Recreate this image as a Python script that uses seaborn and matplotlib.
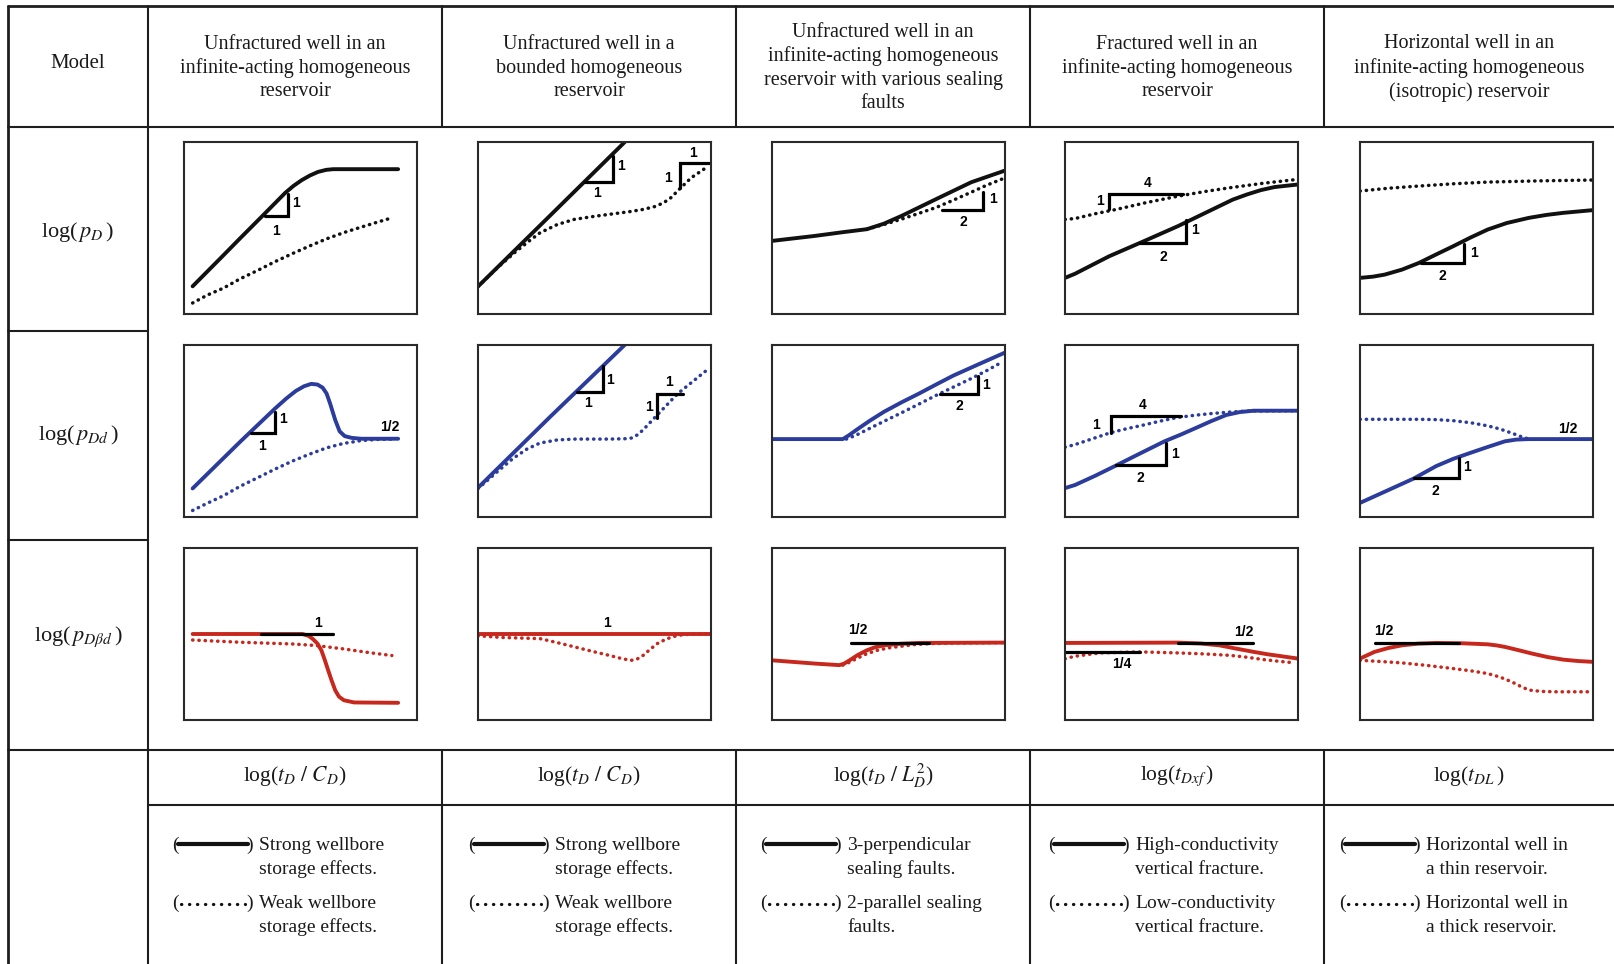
import matplotlib
matplotlib.use("Agg")
import matplotlib.pyplot as plt
import seaborn as sns
from matplotlib.lines import Line2D

sns.set_theme(style="white")
plt.rcParams["font.family"] = ["Liberation Serif", "DejaVu Serif"]
plt.rcParams["mathtext.fontset"] = "stix"

# ---------------- data (panel-local units: 0..100 on both axes) ----------------
model_titles = [
    "Unfractured well in an\ninfinite-acting homogeneous\nreservoir",
    "Unfractured well in a\nbounded homogeneous\nreservoir",
    "Unfractured well in an\ninfinite-acting homogeneous\nreservoir with various sealing\nfaults",
    "Fractured well in an\ninfinite-acting homogeneous\nreservoir",
    "Horizontal well in an\ninfinite-acting homogeneous\n(isotropic) reservoir",
]
row_labels = [r"log($\,p_{D}\,$)", r"log($\,p_{Dd}\,$)", r"log($\,p_{D\beta d}\,$)"]
x_labels = [r"log($t_D\ /\ C_D$)", r"log($t_D\ /\ C_D$)", r"log($t_D\ /\ L_D^2$)",
            r"log($t_{Dxf}\,$)", r"log($t_{DL}\,$)"]
legend_solid = [("Strong wellbore", "storage effects."), ("Strong wellbore", "storage effects."),
                ("3-perpendicular", "sealing faults."), ("High-conductivity", "vertical fracture."),
                ("Horizontal well in", "a thin reservoir.")]
legend_dotted = [("Weak wellbore", "storage effects."), ("Weak wellbore", "storage effects."),
                 ("2-parallel sealing", "faults."), ("Low-conductivity", "vertical fracture."),
                 ("Horizontal well in", "a thick reservoir.")]

# Row 1 : log(pD)
r1c1_solid = [(3.7,16.1),(15.5,32.2),(24.3,44.3),(33.2,56.4),(43.5,70.5),(47,74.5),(50.5,77.8),(54,80.5),(57.5,82.6),(61,83.8),(64,84.2),(91.9,84.2)]
r1c1_dotted = [(3.7,6.4),(10,11),(17,15.1),(24,20.4),(31.7,25.4),(39,30.4),(46.5,35.1),(54,39.6),(61.2,43.7),(68.5,47.3),(76,50.5),(83,53.4),(89.2,55.9)]
r1c1_marks = [[(34.7,56.9),(44.7,56.9),(44.7,69.9)]]
r1c1_text = [("1",48.2,64.5),("1",39.5,48.5)]

r1c2_solid = [(0,16),(31,57.3),(66,104)]
r1c2_dotted = [(0,16),(8,26.5),(16,36),(22,42.5),(26.6,47.2),(34,52),(41.3,55),(50,56.8),(56.1,57.9),(65,59.5),(70.9,60.8),(76,62.5),(79.7,64.7),(83,67.8),(85.6,71.5),(91.5,79.2),(98.9,86)]
r1c2_marks = [[(45.8,76.7),(58.1,76.7),(58.1,91.8)], [(86.9,73),(86.9,87.6),(99,87.6)]]
r1c2_text = [("1",61.3,86),("1",50.9,70.5),("1",92.4,93.5),("1",81.6,78.8)]

r1c3_solid = [(0,42.5),(18.4,45.4),(30,47.5),(40.7,49.3),(48,52.5),(55.7,57.1),(70.6,66.9),(85.5,76.6),(100,83.4)]
r1c3_dotted = [(40.7,49.3),(48,52),(55.7,55.2),(63,58.5),(70.6,62),(78,66.3),(85.5,70.8),(92,74.8),(99,78.6)]
r1c3_marks = [[(72.8,60.6),(90.7,60.6),(90.7,70.8)]]
r1c3_text = [("1",94.8,66.9),("2",82.2,53.6)]

r1c4_solid = [(0,21),(4.3,23.4),(11.5,28.4),(19,33.6),(33.8,42.3),(48.5,51.1),(63.3,60.8),(72,66.5),(78.1,69.5),(84,72),(89.9,73.8),(100,75.3)]
r1c4_dotted = [(0,55),(4.3,55.5),(13,58.3),(22,60.8),(35,64.8),(48.5,68.5),(60,71.2),(70.7,73.4),(85,76),(100,78.3)]
r1c4_marks = [[(32.3,41),(51.8,41),(51.8,54.6)], [(18.8,60.8),(18.8,69.5),(50.8,69.5)]]
r1c4_text = [("1",55.6,49.1),("2",42.4,33.2),("1",15,65.6),("4",35.6,76.3)]

r1c5_solid = [(0,21),(5.5,21.7),(10.6,22.9),(18,25.8),(25.3,29.7),(32.5,34.5),(40,39.4),(47.5,44.5),(54.8,49.1),(63,52.9),(72.5,55.9),(80,57.6),(87.2,58.8),(100,60.4)]
r1c5_dotted = [(0,71.5),(12,73.1),(25.3,74.4),(40,75.7),(54.8,76.7),(77,77.4),(100,77.9)]
r1c5_marks = [[(26.1,29.7),(44.8,29.7),(44.8,40.8)]]
r1c5_text = [("1",48.9,35.5),("2",35.3,22.3)]

# Row 2 : log(pDd)
r2c1_solid = [(3.7,16.6),(24.3,44),(39.1,63.1),(44,69),(48,73.3),(51.5,76),(54.6,77.4),(57.3,77),(59.5,75.2),(61.2,71.8),(62.7,66),(64.9,56.4),(66.8,49.8),(69,47),(72,46),(76,45.5),(91.9,45.5)]
r2c1_dotted = [(3.7,3.8),(10,8),(17,12.4),(24,17.8),(31.7,22.9),(39,27.8),(46.5,32.5),(54,36.6),(61.2,40.2),(68.5,42.8),(76,44.4),(83,45.1),(90.7,45.3)]
r2c1_marks = [[(28.8,48.8),(39.1,48.8),(39.1,61.2)]]
r2c1_text = [("1",42.3,56.8),("1",33.5,41.1),("1/2",88.5,52.2)]

r2c2_solid = [(0,17),(31,58.3),(66,104)]
r2c2_dotted = [(0,16.5),(8,26),(15,34),(21,39.5),(26.6,43),(34,44.8),(41.4,45.3),(56.2,45.3),(63,45.5),(65.8,45.9),(68.5,47.8),(70.9,50.7),(76.9,59.3),(85.7,71.7),(98.3,85.5)]
r2c2_marks = [[(42.6,72.7),(53.6,72.7),(53.6,88)], [(76.9,57.5),(76.9,71.7),(88,71.7)]]
r2c2_text = [("1",56.6,79.7),("1",47.3,66.3),("1",82,78.5),("1",73.2,64)]

r2c3_solid = [(0,45.3),(30.4,45.3),(33,47.5),(36.3,50.7),(42,56),(48.1,61.2),(55.5,66.6),(63,71.7),(70.4,77),(77.8,82.2),(89,89),(100,95.6)]
r2c3_dotted = [(31.9,45.3),(36,47.5),(40.7,50.7),(48,55.6),(55.6,60.6),(63,65.6),(70.4,70.7),(77.8,75.5),(85.2,80.3),(92,85),(98.5,89.9)]
r2c3_marks = [[(71.9,71.7),(88.4,71.7),(88.4,82.2)]]
r2c3_text = [("1",91.9,76.5),("2",80.3,64.4)]

r2c4_solid = [(0,16.8),(4.3,18.6),(13,24),(22,30),(32,36.8),(42.7,44),(49.5,47.8),(55.9,51.6),(62.5,55.6),(69.2,59.3),(75,61),(81,61.8),(100,61.8)]
r2c4_dotted = [(0,40.6),(4.3,42.1),(12,45.6),(19.7,49.1),(26.7,51.4),(33.8,53.5),(41,55.8),(48.5,57.9),(56,59.2),(63.3,60.2),(70.7,61),(78.1,61.6),(100,61.8)]
r2c4_marks = [[(21.7,30),(43.4,30),(43.4,43)], [(19.7,49.1),(19.7,58.7),(49.9,58.7)]]
r2c4_text = [("1",47.1,36.9),("2",32.3,22.4),("1",13.4,53.5),("4",33.5,65)]

r2c5_solid = [(0,8.2),(10.6,14.7),(23.1,22.4),(32.7,29.6),(40,33.8),(47.4,37.3),(55,40.8),(62.2,44),(67,45),(72.5,45.3),(100,45.3)]
r2c5_dotted = [(0,56.8),(25.3,56.8),(33,56.6),(40,56),(47.5,54.8),(54.8,53),(60,51.2),(65.1,48.8),(69,46.8),(72.5,45.3)]
r2c5_marks = [[(23.1,22.4),(42.3,22.4),(42.3,34.4)]]
r2c5_text = [("1",45.9,29.3),("2",32.4,15.3),("1/2",89,51)]

# Row 3 : log(pDbd)
r3c1_solid = [(3.7,50),(50.9,50),(53.5,48.9),(55.3,47.1),(57.3,44.4),(59,40.4),(60.5,34.6),(61.9,28.8),(63.4,22.8),(64.9,17.3),(66.5,13.6),(68.6,11.5),(73,10.2),(91.9,10)]
r3c1_dotted = [(3.7,46.5),(24.3,45.2),(46.5,44.2),(56.8,43.3),(68.6,41.3),(80.4,39),(89.2,37.5)]
r3c1_marks = [[(33.2,50),(63.9,50)]]
r3c1_text = [("1",57.5,56.2)]

r3c2_solid = [(0,50.2),(100,50.2)]
r3c2_dotted = [(0,49),(10,48),(26.6,47.3),(34,45),(41.4,42.5),(48.8,40),(56.2,37.6),(62,35.6),(65.8,34.7),(68.5,35.6),(70.9,37.6),(73.8,41),(76.9,44.4),(81,47.2),(85.7,49.2),(92,50),(100,50.2)]
r3c2_marks = []
r3c2_text = [("1",55.4,56.4)]

r3c3_solid = [(0,34.7),(18.5,32.8),(28.9,31.9),(31,32.8),(33.3,34.7),(36.8,37.8),(40.7,40.5),(44,42.2),(48.1,43.4),(55,44.3),(63,44.8),(100,45)]
r3c3_dotted = [(30.4,31.9),(33.3,33.6),(36.3,35.7),(40.5,38.4),(45.2,40.5),(50,41.9),(55.6,42.9),(61,43.8),(67.4,44.4),(80,44.8),(100,45)]
r3c3_marks = [[(34.1,45),(67.4,45)]]
r3c3_text = [("1/2",37,52.1)]

r3c4_solid = [(0,44.8),(48.5,45),(58,44.5),(66.3,43.4),(73.5,41.5),(81,39.6),(87,38.2),(92.8,37.1),(100,35.7)]
r3c4_dotted = [(0,35.6),(4,37),(15,39),(32.3,39.6),(48.5,39),(60,38.4),(70.7,37.6),(78,36.5),(85.4,35.1),(92,34.1),(98.7,33.2)]
r3c4_marks = [[(48.5,45),(80.7,45)], [(0,39.6),(32.3,39.6)]]
r3c4_text = [("1/2",76.9,51.2),("1/4",24.2,32.4)]

r3c5_solid = [(0,35.7),(6.2,39.6),(12,41.8),(18,43.4),(25,44.4),(32.7,44.8),(44,44.6),(54.8,44),(58.5,43.4),(62.2,42.5),(68,40.6),(73.9,38.6),(80.5,36.6),(87.2,35.1),(93.5,34.3),(100,33.8)]
r3c5_dotted = [(0,34.7),(9,34),(18,33.2),(29,31.7),(40,29.9),(47.5,28.6),(54.8,27),(60,25),(65.1,22.2),(69,19.5),(72.5,17.4),(78,16.6),(84.2,16.4),(99,16.4)]
r3c5_marks = [[(6.5,44.8),(42.3,44.8)]]
r3c5_text = [("1/2",10.3,51.7)]

row_colors = ["#111111", "#2c3c9c", "#c7281e"]

# ---------------- layout (pixels of the 1614 x 964 canvas) ----------------
W, H = 1614, 964
fig = plt.figure(figsize=(W / 100, H / 100), dpi=100)
fig.patch.set_facecolor("white")

def X(px):
    return px / W

def Y(py):
    return 1 - py / H

LC = "#1e1e1e"

def hline(y, x0, x1, lw=1.5):
    fig.add_artist(Line2D([X(x0), X(x1)], [Y(y), Y(y)], color=LC, lw=lw, transform=fig.transFigure))

def vline(x, y0, y1, lw=1.5):
    fig.add_artist(Line2D([X(x), X(x)], [Y(y0), Y(y1)], color=LC, lw=lw, transform=fig.transFigure))

col_div = [148, 442, 736, 1030, 1324]
top, head_b, row_b, plot_b, axis_b = 6, 127, [331, 540], 750, 805

hline(top, 8, W, 2.0)
vline(8, top, H, 2.0)
hline(head_b, 8, W)
for yb in row_b:
    hline(yb, 8, col_div[0])
hline(plot_b, 8, W)
hline(axis_b, col_div[0], W)
vline(col_div[0], top, H)
for xd in col_div[1:]:
    vline(xd, top, head_b)
    vline(xd, plot_b, H)

col_centers = [(col_div[i] + (col_div[i + 1] if i < 4 else W)) / 2 for i in range(5)]
TC = "#1a1a1a"
fig.text(X(78), Y(64), "Model", ha="center", va="center", fontsize=15, color=TC)
for i, t in enumerate(model_titles):
    fig.text(X(col_centers[i]), Y(68), t, ha="center", va="center", fontsize=14.5,
             linespacing=1.3, color=TC)
for r, (lab, yc) in enumerate(zip(row_labels, [232, 435, 637])):
    fig.text(X(78), Y(yc), lab, ha="center", va="center", fontsize=16, color=TC)
for i, t in enumerate(x_labels):
    fig.text(X(col_centers[i]), Y(776), t, ha="center", va="center", fontsize=15.5, color=TC)

# legends
paren_x = [172, 468, 760, 1048, 1339]
for i in range(5):
    px0 = paren_x[i]
    for (l1, l2), y1, dotted in [(legend_solid[i], 845, False), (legend_dotted[i], 903, True)]:
        fig.text(X(px0), Y(y1), "(", ha="left", va="center", fontsize=14, color=TC)
        fig.text(X(px0 + 74), Y(y1), ")", ha="left", va="center", fontsize=14, color=TC)
        if dotted:
            fig.add_artist(Line2D([X(px0 + 9), X(px0 + 73)], [Y(y1 + 1), Y(y1 + 1)], color="#111",
                                  lw=2.3, linestyle=(0, (0.1, 2.4)), dash_capstyle="round",
                                  transform=fig.transFigure))
        else:
            fig.add_artist(Line2D([X(px0 + 6), X(px0 + 76)], [Y(y1 - 1), Y(y1 - 1)], color="#111",
                                  lw=3.0, transform=fig.transFigure))
        fig.text(X(px0 + 87), Y(y1), l1, ha="left", va="center", fontsize=14, color=TC)
        fig.text(X(px0 + 87), Y(y1 + 24), l2, ha="left", va="center", fontsize=14, color=TC)

# panels
panel_x0 = [184, 478, 772, 1065, 1360]
panel_y0 = [142, 345, 548]
PW, PH = 233, 172
panels = [
    [(r1c1_solid, r1c1_dotted, r1c1_marks, r1c1_text), (r1c2_solid, r1c2_dotted, r1c2_marks, r1c2_text),
     (r1c3_solid, r1c3_dotted, r1c3_marks, r1c3_text), (r1c4_solid, r1c4_dotted, r1c4_marks, r1c4_text),
     (r1c5_solid, r1c5_dotted, r1c5_marks, r1c5_text)],
    [(r2c1_solid, r2c1_dotted, r2c1_marks, r2c1_text), (r2c2_solid, r2c2_dotted, r2c2_marks, r2c2_text),
     (r2c3_solid, r2c3_dotted, r2c3_marks, r2c3_text), (r2c4_solid, r2c4_dotted, r2c4_marks, r2c4_text),
     (r2c5_solid, r2c5_dotted, r2c5_marks, r2c5_text)],
    [(r3c1_solid, r3c1_dotted, r3c1_marks, r3c1_text), (r3c2_solid, r3c2_dotted, r3c2_marks, r3c2_text),
     (r3c3_solid, r3c3_dotted, r3c3_marks, r3c3_text), (r3c4_solid, r3c4_dotted, r3c4_marks, r3c4_text),
     (r3c5_solid, r3c5_dotted, r3c5_marks, r3c5_text)],
]

for r in range(3):
    for c in range(5):
        x0, y0 = panel_x0[c], panel_y0[r]
        ax = fig.add_axes([X(x0), Y(y0 + PH), PW / W, PH / H])
        solid, dotted, marks, texts = panels[r][c]
        color = row_colors[r]
        sns.lineplot(x=[p[0] for p in dotted], y=[p[1] for p in dotted], ax=ax, color=color,
                     lw=2.5, linestyle=(0, (0.1, 1.7)), dash_capstyle="round",
                     sort=False, estimator=None)
        sns.lineplot(x=[p[0] for p in solid], y=[p[1] for p in solid], ax=ax, color=color,
                     lw=2.8, solid_capstyle="round", solid_joinstyle="round",
                     sort=False, estimator=None)
        for m in marks:
            sns.lineplot(x=[p[0] for p in m], y=[p[1] for p in m], ax=ax, color="black",
                         lw=2.3, sort=False, estimator=None, solid_joinstyle="miter")
        for s, tx, ty in texts:
            ax.text(tx, ty, s, ha="center", va="center", fontsize=10, fontweight="bold",
                    family="Liberation Sans", color="black")
        ax.set_xlim(0, 100)
        ax.set_ylim(0, 100)
        ax.set_xticks([])
        ax.set_yticks([])
        ax.set_xlabel("")
        ax.set_ylabel("")
        for sp in ax.spines.values():
            sp.set_visible(True)
            sp.set_color("#2a2a2a")
            sp.set_linewidth(1.5)
        ax.set_facecolor("white")

fig.savefig("out.png", dpi=100, facecolor="white")
